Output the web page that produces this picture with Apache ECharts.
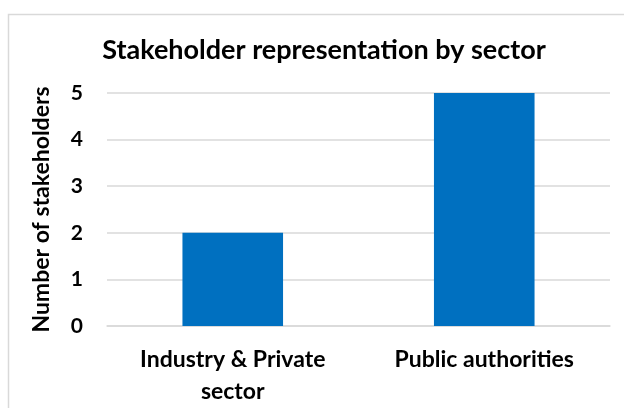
<!DOCTYPE html>
<html>
<head>
<meta charset="utf-8">
<script src="https://cdn.jsdelivr.net/npm/echarts@6/dist/echarts.min.js"></script>
<style>
  html, body { margin: 0; padding: 0; background: #fff; }
  #chart { width: 624px; height: 408px; }
</style>
</head>
<body>
<div id="chart"></div>
<script>
const sectors = ['Industry & Private\nsector', 'Public authorities'];
const stakeholders = [2, 5];
const yTicks = [0, 1, 2, 3, 4, 5];

const myChart = echarts.init(document.getElementById('chart'));
const font = 'Lato, "Open Sans", sans-serif';

const option = {
  animation: false,
  backgroundColor: '#fff',
  graphic: [
    {
      type: 'rect',
      left: 6, top: 12,
      shape: { width: 640, height: 420 },
      style: { fill: 'none', stroke: '#d9d9d9', lineWidth: 1.5 },
      silent: true
    }
  ],
  title: {
    text: 'Stakeholder representation by sector',
    left: 319,
    top: 32,
    textAlign: 'center',
    textStyle: { fontFamily: font, fontWeight: 'bold', fontSize: 27, color: '#000' }
  },
  grid: { left: 107, right: 14, top: 93, bottom: 82 },
  xAxis: {
    type: 'category',
    data: sectors,
    axisLine: { show: true, lineStyle: { color: '#d9d9d9', width: 1.5 } },
    axisTick: { show: false },
    axisLabel: {
      fontFamily: font, fontWeight: 'bold', fontSize: 23, color: '#000',
      margin: 18, lineHeight: 32
    }
  },
  yAxis: {
    type: 'value',
    min: yTicks[0],
    max: yTicks[yTicks.length - 1],
    interval: 1,
    name: 'Number of stakeholders',
    nameLocation: 'middle',
    nameGap: 54,
    nameRotate: 90,
    nameTextStyle: { fontFamily: font, fontWeight: 'bold', fontSize: 23, color: '#000' },
    axisLine: { show: false },
    axisTick: { show: false },
    axisLabel: { fontFamily: font, fontWeight: 'bold', fontSize: 21, color: '#000', margin: 24 },
    splitLine: { lineStyle: { color: '#d9d9d9', width: 1.5 } }
  },
  series: [
    {
      type: 'bar',
      data: stakeholders,
      barWidth: '40%',
      itemStyle: { color: '#0070c0' }
    }
  ]
};

myChart.setOption(option);
</script>
</body>
</html>
